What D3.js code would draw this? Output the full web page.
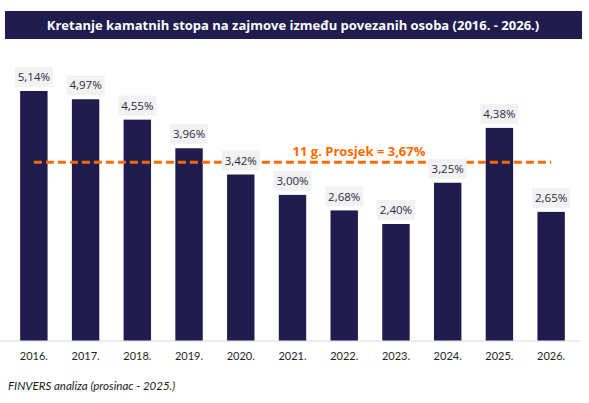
<!DOCTYPE html>
<html>
<head>
<meta charset="utf-8">
<script src="https://cdn.jsdelivr.net/npm/d3@7"></script>
<style>
  body { margin: 0; background: #fff; }
  svg { display: block; font-family: "Open Sans", sans-serif; }
</style>
</head>
<body>
<div id="chart"></div>
<script>
const years = ["2016.", "2017.", "2018.", "2019.", "2020.", "2021.", "2022.", "2023.", "2024.", "2025.", "2026."];
const rates = [5.14, 4.97, 4.55, 3.96, 3.42, 3.00, 2.68, 2.40, 3.25, 4.38, 2.65];
const average = 3.67;
const title = "Kretanje kamatnih stopa na zajmove između povezanih osoba (2016. - 2026.)";
const avgLabel = "11 g. Prosjek = 3,67%";
const source = "FINVERS analiza (prosinac - 2025.)";

const render = () => {
  const width = 589, height = 403;
  const navy = "#201c4e", orange = "#ff6a00";
  const fmt = v => d3.format(".2f")(v).replace(".", ",") + "%";

  const svg = d3.select("#chart")
    .append("svg")
    .attr("width", width)
    .attr("height", height);

  // title bar
  svg.append("rect")
    .attr("x", 5).attr("y", 11)
    .attr("width", 577).attr("height", 28)
    .attr("fill", navy);
  svg.append("text")
    .attr("x", 293).attr("y", 30)
    .attr("text-anchor", "middle")
    .attr("fill", "#fff")
    .style("font-weight", "bold")
    .style("font-size", "13px")
    .text(title);

  const xScale = d3.scaleBand()
    .domain(years)
    .range([8, 577])
    .paddingInner(0.47)
    .paddingOuter(0.235);

  const yScale = d3.scaleLinear()
    .domain([0, 5.14])
    .range([340.5, 91]);

  // axis line + year labels
  const xAxis = d3.axisBottom(xScale).tickSize(0).tickPadding(11);
  const ax = svg.append("g")
    .attr("transform", `translate(0,${341})`)
    .call(xAxis);
  ax.select(".domain").attr("stroke", "#d9d9d9").attr("d", "M0,0H580");
  ax.selectAll("text")
    .attr("fill", "#1f1f1f")
    .style("font-size", "11px")
    .style("font-family", "Lato, sans-serif");

  // bars
  svg.append("g")
    .selectAll("rect")
    .data(rates)
    .enter()
    .append("rect")
    .attr("x", (d, i) => xScale(years[i]))
    .attr("y", d => yScale(d))
    .attr("width", xScale.bandwidth())
    .attr("height", d => yScale(0) - yScale(d))
    .attr("fill", navy);

  // average line (under the value labels)
  const x0 = xScale(years[0]) + xScale.bandwidth() / 2;
  const x1 = xScale(years[years.length - 1]) + xScale.bandwidth() / 2;
  svg.append("line")
    .attr("x1", x0).attr("x2", x1)
    .attr("y1", yScale(average)).attr("y2", yScale(average))
    .attr("stroke", orange)
    .attr("stroke-width", 3)
    .attr("stroke-dasharray", "8,4");
  svg.append("text")
    .attr("x", 359).attr("y", yScale(average) - 6)
    .attr("text-anchor", "middle")
    .attr("fill", orange)
    .style("font-weight", "bold")
    .style("font-size", "13px")
    .text(avgLabel);

  // value labels
  const lab = svg.append("g")
    .selectAll("g")
    .data(rates)
    .enter()
    .append("g")
    .attr("transform", (d, i) => `translate(${xScale(years[i]) + xScale.bandwidth() / 2},${yScale(d) - 14})`);
  lab.append("rect")
    .attr("x", -19).attr("y", -10)
    .attr("width", 38).attr("height", 20)
    .attr("fill", "#f2f2f2");
  lab.append("text")
    .attr("text-anchor", "middle")
    .attr("dy", "0.36em")
    .attr("fill", "#2b2a45")
    .style("font-size", "11.5px")
    .text(d => fmt(d));

  // source
  svg.append("text")
    .attr("x", 8).attr("y", 390)
    .attr("fill", "#1a1a1a")
    .style("font-style", "italic")
    .style("font-size", "11.5px")
    .style("font-family", "Lato, sans-serif")
    .text(source);
};

document.addEventListener("DOMContentLoaded", render);
</script>
</body>
</html>
